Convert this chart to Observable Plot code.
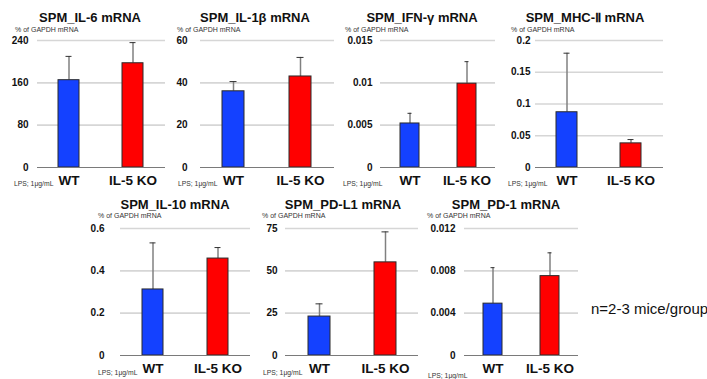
<!DOCTYPE html>
<html>
<head>
<meta charset="utf-8">
<script src="https://cdn.jsdelivr.net/npm/d3@7"></script>
<script src="https://cdn.jsdelivr.net/npm/@observablehq/plot@0.6"></script>
<style>
  html, body { margin: 0; padding: 0; background: #fff; }
  #root { position: relative; width: 707px; height: 379px; overflow: hidden; font-family: "Liberation Sans", Arial, sans-serif; }
  .abs { position: absolute; white-space: nowrap; }
  .title { font-weight: bold; font-size: 13px; color: #111; transform: translate(-50%, -50%); }
  .unit { font-size: 7px; color: #333; transform: translateY(-50%); }
  .lps { font-size: 6.8px; color: #333; transform: translateY(-50%); }
  .note { font-size: 15px; color: #111; transform: translateY(-50%); }
  svg text { font-family: "Liberation Sans", Arial, sans-serif; }
</style>
</head>
<body>
<div id="root"></div>
<script>
// ---- data ----
const panelTitles = ["SPM_IL-6 mRNA", "SPM_IL-1β mRNA", "SPM_IFN-γ mRNA", "SPM_MHC-Ⅱ mRNA", "SPM_IL-10 mRNA", "SPM_PD-L1 mRNA", "SPM_PD-1 mRNA"];
const groups = ["WT", "IL-5 KO"];
const wtMeans = [165, 36, 0.0052, 0.087, 0.312, 23, 0.0049];
const koMeans = [197, 43, 0.0099, 0.038, 0.458, 55, 0.0075];
const wtSD = [45, 4.6, 0.0012, 0.093, 0.22, 7.5, 0.0034];
const koSD = [39, 9, 0.0026, 0.006, 0.052, 18, 0.0022];
const yTicks = [
  [0, 80, 160, 240],
  [0, 20, 40, 60],
  [0, 0.005, 0.01, 0.015],
  [0, 0.05, 0.1, 0.15, 0.2],
  [0, 0.2, 0.4, 0.6],
  [0, 25, 50, 75],
  [0, 0.004, 0.008, 0.012]
];
const unitLabel = "% of GAPDH mRNA";
const lpsLabel = "LPS; 1μg/mL";
const noteText = "n=2-3 mice/group";

// ---- layout (pixel positions of each panel) ----
const layout = [
  {gx0: 37,  gx1: 165, gy0: 40,  gy1: 167, tx: 90,  ty: 17,  ux: 15,  uy: 29,  lx: 14,  ly: 183, pad: 9},
  {gx0: 200, gx1: 334, gy0: 40,  gy1: 167, tx: 255, ty: 17,  ux: 177, uy: 29,  lx: 178, ly: 183, pad: 13},
  {gx0: 380, gx1: 495, gy0: 40,  gy1: 167, tx: 422, ty: 17,  ux: 345, uy: 29,  lx: 343, ly: 183, pad: 8},
  {gx0: 535, gx1: 663, gy0: 40,  gy1: 167, tx: 585, ty: 17,  ux: 511, uy: 29,  lx: 508, ly: 183, pad: 5},
  {gx0: 120, gx1: 250, gy0: 228, gy1: 355, tx: 175, ty: 204, ux: 98,  uy: 215, lx: 98,  ly: 372, pad: 16},
  {gx0: 285, gx1: 418, gy0: 228, gy1: 355, tx: 343, ty: 204, ux: 262, uy: 215, lx: 263, ly: 372, pad: 8},
  {gx0: 464, gx1: 578, gy0: 228, gy1: 355, tx: 506, ty: 204, ux: 427, uy: 215, lx: 428, ly: 375, pad: 9}
];
const colors = ["#1441ff", "#ff0000"];

const root = document.getElementById("root");
function addText(cls, text, x, y) {
  const d = document.createElement("div");
  d.className = "abs " + cls;
  d.textContent = text;
  d.style.left = x + "px";
  d.style.top = y + "px";
  root.appendChild(d);
}

panelTitles.forEach((title, i) => {
  const L = layout[i];
  const ticks = yTicks[i];
  const ymax = ticks[ticks.length - 1];
  const rows = groups.map((g, j) => ({
    group: g,
    mean: j === 0 ? wtMeans[i] : koMeans[i],
    upper: j === 0 ? wtMeans[i] + wtSD[i] : koMeans[i] + koSD[i]
  }));
  const mL = 40, mR = 5, mT = 8, mB = 26;
  const plot = Plot.plot({
    width: L.gx1 - L.gx0 + mL + mR,
    height: L.gy1 - L.gy0 + mT + mB,
    marginLeft: mL, marginRight: mR, marginTop: mT, marginBottom: mB,
    style: {background: "transparent", overflow: "visible"},
    x: {domain: groups, paddingInner: 0.67, paddingOuter: 0.335, align: 0.5, label: null},
    y: {domain: [0, ymax], label: null},
    color: {domain: groups, range: colors},
    marks: [
      Plot.ruleY(ticks.filter(t => t > 0), {stroke: "#d6d6d6", strokeWidth: 1.6}),
      Plot.ruleX(rows, {x: "group", y1: "mean", y2: "upper", stroke: "#808080", strokeWidth: 1.5}),
      Plot.tickY(rows, {x: "group", y: "upper", stroke: "#333", strokeWidth: 1, insetLeft: 7.5, insetRight: 7.5}),
      Plot.barY(rows, {x: "group", y: "mean", fill: "group", stroke: "#2a2a2a", strokeWidth: 1}),
      Plot.ruleY([0], {stroke: "#7a7a7a", strokeWidth: 1.2}),
      Plot.axisY({ticks: ticks, tickFormat: d => String(d), tickSize: 0, tickPadding: L.pad, fontSize: 10, fontWeight: "bold", fill: "#111"}),
      Plot.axisX({tickSize: 0, tickPadding: 8, fontSize: 13.5, fontWeight: "bold", fill: "#111"})
    ]
  });
  plot.style.position = "absolute";
  plot.style.left = (L.gx0 - mL) + "px";
  plot.style.top = (L.gy0 - mT) + "px";
  root.appendChild(plot);

  addText("title", title, L.tx, L.ty);
  addText("unit", unitLabel, L.ux, L.uy);
  addText("lps", lpsLabel, L.lx, L.ly);
});

addText("note", noteText, 591, 308);
</script>
</body>
</html>
